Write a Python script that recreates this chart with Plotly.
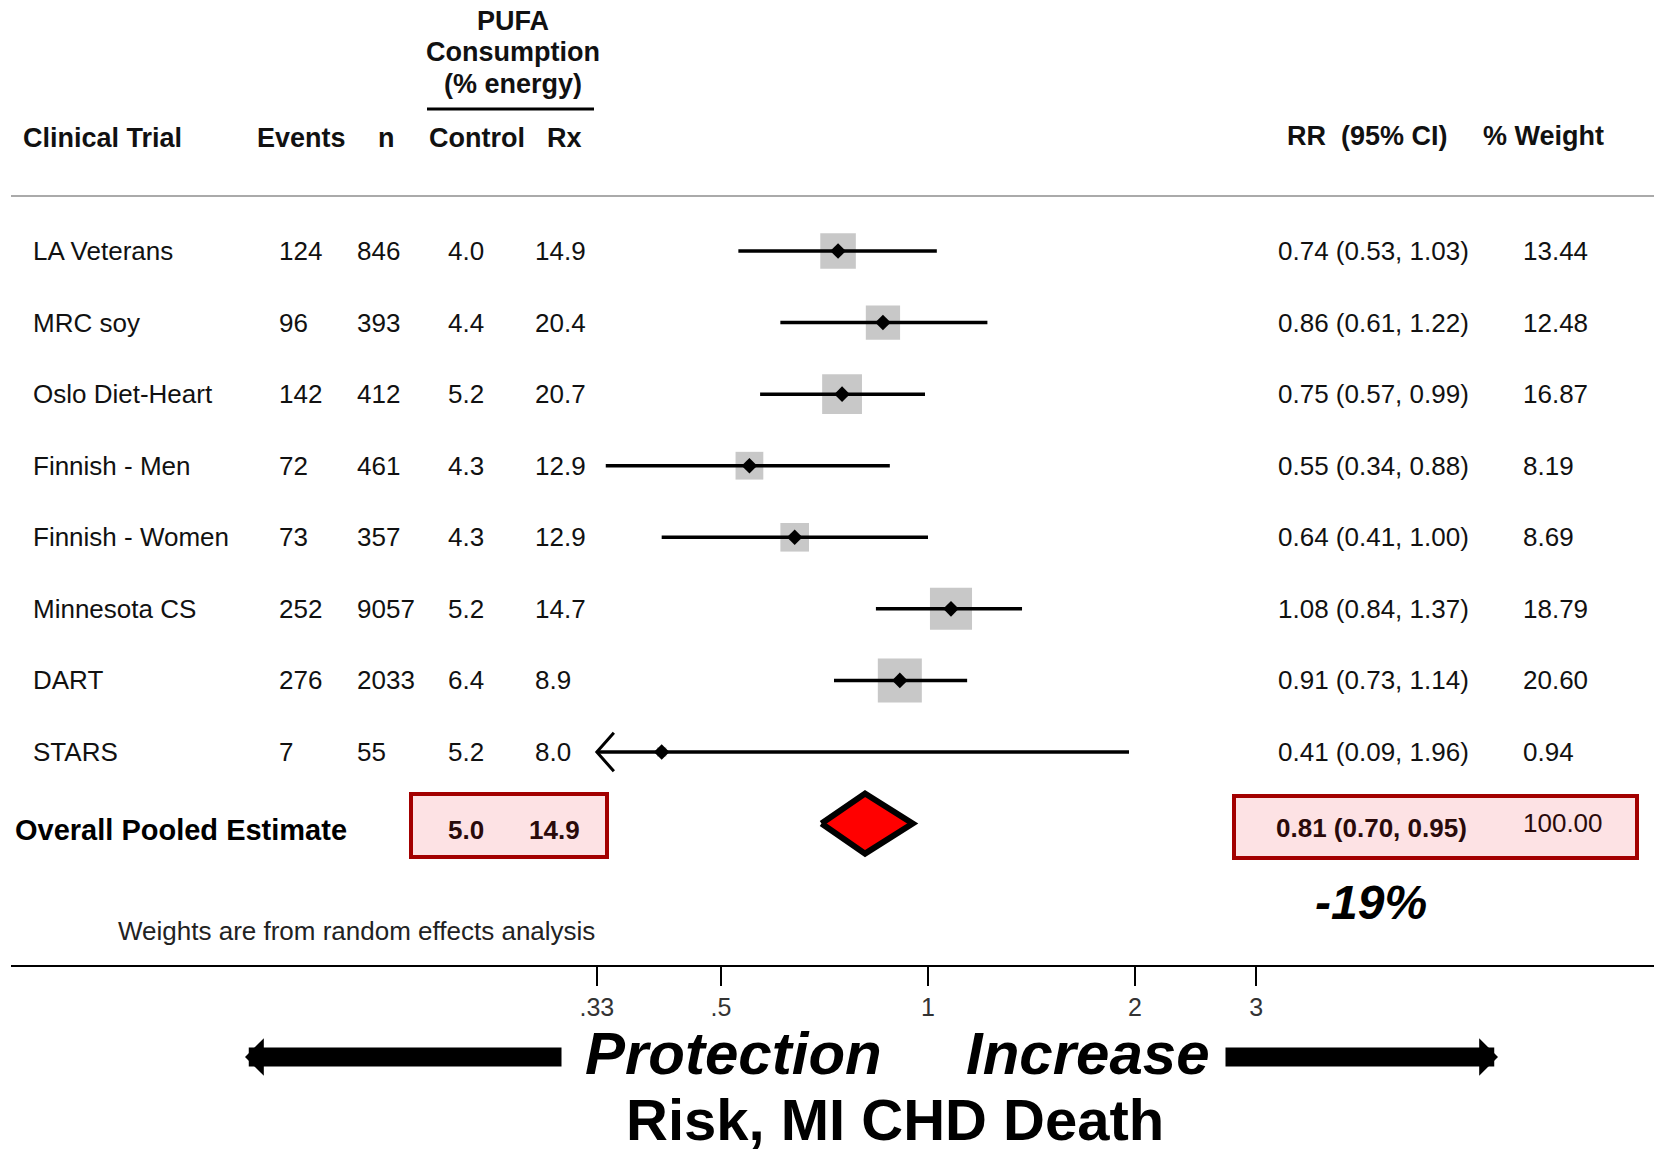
import numpy as np
import plotly.graph_objects as go

# ---------------- data ----------------
trials = ["LA Veterans", "MRC soy", "Oslo Diet-Heart", "Finnish - Men",
          "Finnish - Women", "Minnesota CS", "DART", "STARS"]
events = [124, 96, 142, 72, 73, 252, 276, 7]
n_subj = [846, 393, 412, 461, 357, 9057, 2033, 55]
pufa_control = ["4.0", "4.4", "5.2", "4.3", "4.3", "5.2", "6.4", "5.2"]
pufa_rx = ["14.9", "20.4", "20.7", "12.9", "12.9", "14.7", "8.9", "8.0"]
rr = [0.74, 0.86, 0.75, 0.55, 0.64, 1.08, 0.91, 0.41]
ci_low = [0.53, 0.61, 0.57, 0.34, 0.41, 0.84, 0.73, 0.09]
ci_high = [1.03, 1.22, 0.99, 0.88, 1.00, 1.37, 1.14, 1.96]
weight = [13.44, 12.48, 16.87, 8.19, 8.69, 18.79, 20.60, 0.94]

pooled_control = "5.0"
pooled_rx = "14.9"
pooled_rr = 0.81
pooled_low = 0.70
pooled_high = 0.95
pooled_weight = "100.00"
pooled_change = "-19%"

tick_vals = [0.33, 0.5, 1, 2, 3]
tick_text = [".33", ".5", "1", "2", "3"]

# ---------------- layout helpers ----------------
W, H = 1654, 1153
ML, MB = 11, 188
PLOT_H = H - MB
FONT = "Liberation Sans, Arial, sans-serif"


def px(x):
    return (x - ML) / (W - ML)


def py(y):
    return (PLOT_H - y) / PLOT_H


rows = list(range(len(trials)))
pooled_row = len(trials)
xmin_clip = min(tick_vals)

fig = go.Figure()

# weight squares
fig.add_trace(go.Scatter(
    x=rr, y=rows, mode="markers",
    marker=dict(symbol="square", size=[9.7 * np.sqrt(w) for w in weight],
                color="#b0b0b0", line=dict(width=0)),
    hoverinfo="skip", showlegend=False))

# CI lines
lx, ly = [], []
for k, lo, hi in zip(rows, ci_low, ci_high):
    lx += [max(lo, xmin_clip), hi, None]
    ly += [k, k, None]
fig.add_trace(go.Scatter(x=lx, y=ly, mode="lines",
                         line=dict(color="black", width=3.5),
                         hoverinfo="skip", showlegend=False))

# open chevrons for CIs running past the axis minimum
CHEV_W = 0.057   # width in ln(x) units
CHEV_H = 0.27    # half height in row units
cx, cy = [], []
for k, lo in zip(rows, ci_low):
    if lo < xmin_clip:
        cx += [xmin_clip * np.exp(CHEV_W), xmin_clip, xmin_clip * np.exp(CHEV_W), None]
        cy += [k - CHEV_H, k, k + CHEV_H, None]
fig.add_trace(go.Scatter(x=cx, y=cy, mode="lines",
                         line=dict(color="black", width=3),
                         hoverinfo="skip", showlegend=False))

# point estimates
fig.add_trace(go.Scatter(x=rr, y=rows, mode="markers",
                         marker=dict(symbol="diamond", size=12, color="black"),
                         hoverinfo="skip", showlegend=False))

# pooled diamond
hh = 0.42
fig.add_trace(go.Scatter(
    x=[pooled_low, pooled_rr, pooled_high, pooled_rr, pooled_low],
    y=[pooled_row, pooled_row - hh, pooled_row, pooled_row + hh, pooled_row],
    mode="lines", fill="toself", fillcolor="#ff0000",
    line=dict(color="black", width=6), hoverinfo="skip", showlegend=False))

# reference lines
fig.add_shape(type="line", xref="x", yref="paper",
              x0=np.log10(1), x1=np.log10(1), y0=0, y1=py(196),
              line=dict(color="black", width=2))
fig.add_shape(type="line", xref="x", yref="paper",
              x0=np.log10(pooled_rr), x1=np.log10(pooled_rr), y0=0, y1=py(196),
              line=dict(color="#9b3040", width=2, dash="9px,6px"))
# header rule
fig.add_shape(type="line", xref="paper", yref="paper", x0=0, x1=1,
              y0=py(196), y1=py(196), line=dict(color="#aaaaaa", width=2))
# PUFA underline
fig.add_shape(type="line", xref="paper", yref="paper", x0=px(427), x1=px(594),
              y0=py(109), y1=py(109), line=dict(color="black", width=3))

# pooled boxes
for x0, x1, y0, y1 in [(411, 607, 794, 857), (1234, 1637, 796, 858)]:
    fig.add_shape(type="rect", xref="paper", yref="paper",
                  x0=px(x0), x1=px(x1), y0=py(y1), y1=py(y0),
                  fillcolor="#fde2e4", line=dict(color="#a30000", width=4),
                  layer="below")


def txt(x, y, s, size=26, bold=False, italic=False, anchor="left",
        yref="paper", color="#111111"):
    if bold:
        s = "<b>" + s + "</b>"
    if italic:
        s = "<i>" + s + "</i>"
    fig.add_annotation(x=px(x), y=(py(y) if yref == "paper" else y),
                       xref="paper", yref=yref, text=s, showarrow=False,
                       xanchor=anchor, yanchor="middle",
                       font=dict(family=FONT, size=size, color=color))


# headers
txt(513, 21, "PUFA", 27, True, anchor="center")
txt(513, 52, "Consumption", 27, True, anchor="center")
txt(513, 84, "(% energy)", 27, True, anchor="center")
txt(21, 138, "Clinical Trial", 27, True)
txt(255, 138, "Events", 27, True)
txt(386, 138, "n", 27, True, anchor="center")
txt(427, 138, "Control", 27, True)
txt(545, 138, "Rx", 27, True)
txt(1285, 136, "RR  (95% CI)", 27, True)
txt(1481, 136, "% Weight", 27, True)

# table rows
for k in rows:
    txt(31, k, trials[k], yref="y")
    txt(277, k, str(events[k]), yref="y")
    txt(355, k, str(n_subj[k]), yref="y")
    txt(446, k, pufa_control[k], yref="y")
    txt(533, k, pufa_rx[k], yref="y")
    txt(1276, k, f"{rr[k]:.2f} ({ci_low[k]:.2f}, {ci_high[k]:.2f})", yref="y")
    txt(1521, k, f"{weight[k]:.2f}", yref="y")

# pooled row
txt(13, pooled_row + 0.09, "Overall Pooled Estimate", 29, True, yref="y", color="#000000")
txt(446, pooled_row + 0.09, pooled_control, 26, True, yref="y", color="#2a0a0a")
txt(527, pooled_row + 0.09, pooled_rx, 26, True, yref="y", color="#2a0a0a")
txt(1274, pooled_row + 0.06, f"{pooled_rr:.2f} ({pooled_low:.2f}, {pooled_high:.2f})",
    26, True, yref="y", color="#2a0a0a")
txt(1521, pooled_row - 0.01, pooled_weight, 26, yref="y", color="#2a0a0a")

txt(1371, 902, pooled_change, 48, True, True, anchor="center", color="#000000")
txt(116, 931, "Weights are from random effects analysis", 26, color="#222222")

# bottom labels
txt(733, 1053, "Protection", 60, True, True, anchor="center", color="#000000")
txt(1088, 1053, "Increase", 60, True, True, anchor="center", color="#000000")
txt(895, 1119, "Risk, MI CHD Death", 58, True, anchor="center", color="#000000")

# big arrows
fig.add_annotation(x=px(245), y=py(1057), xref="paper", yref="paper",
                   ax=318, ay=0, text="", showarrow=True, arrowhead=1,
                   arrowwidth=19, arrowsize=0.33, arrowcolor="black")
fig.add_annotation(x=px(1498), y=py(1057), xref="paper", yref="paper",
                   ax=-274, ay=0, text="", showarrow=True, arrowhead=1,
                   arrowwidth=19, arrowsize=0.33, arrowcolor="black")

# axes: pixel = 928 + 298.7 * ln(x)
x_left = (ML - 928) / 298.7 / np.log(10)
x_right = (W - 928) / 298.7 / np.log(10)
y_top = -251 / 71.57
y_bot = (PLOT_H - 251) / 71.57

fig.update_xaxes(type="log", range=[x_left, x_right], showgrid=False,
                 zeroline=False, showline=True, linecolor="black", linewidth=2,
                 ticks="outside", ticklen=19, tickwidth=2, tickcolor="black",
                 tickvals=tick_vals, ticktext=tick_text,
                 tickfont=dict(family=FONT, size=25, color="#333333"))
fig.update_yaxes(range=[y_bot, y_top], visible=False, showgrid=False,
                 zeroline=False)

fig.update_layout(width=W, height=H, margin=dict(l=ML, r=0, t=0, b=MB),
                  paper_bgcolor="white", plot_bgcolor="white",
                  showlegend=False)

fig.write_html("out.html")
